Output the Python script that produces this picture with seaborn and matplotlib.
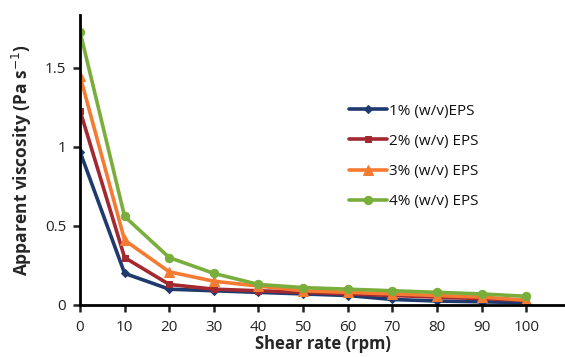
import numpy as np
import pandas as pd
import matplotlib
matplotlib.use("Agg")
import matplotlib.pyplot as plt
import seaborn as sns

# data
shear_rate = [0, 10, 20, 30, 40, 50, 60, 70, 80, 90, 100]
eps1 = [0.97, 0.20, 0.10, 0.09, 0.08, 0.07, 0.06, 0.035, 0.025, 0.02, 0.015]
eps2 = [1.23, 0.30, 0.13, 0.10, 0.09, 0.08, 0.07, 0.06, 0.05, 0.04, 0.03]
eps3 = [1.45, 0.41, 0.21, 0.15, 0.12, 0.09, 0.08, 0.07, 0.06, 0.05, 0.03]
eps4 = [1.73, 0.56, 0.30, 0.20, 0.13, 0.11, 0.10, 0.09, 0.08, 0.07, 0.055]
labels = ["1% (w/v)EPS", "2% (w/v) EPS", "3% (w/v) EPS", "4% (w/v) EPS"]

colors = ["#1f3a6e", "#a3282f", "#f57a32", "#7aae3c"]
markers = ["D", "s", "^", "o"]
msizes = [4, 4, 7, 6]

df = pd.concat([
    pd.DataFrame({"rate": shear_rate, "visc": v, "conc": lab})
    for v, lab in zip([eps1, eps2, eps3, eps4], labels)
])

sns.set_style("white")
plt.rcParams['font.family'] = ['Open Sans', 'DejaVu Sans']

fig = plt.figure(figsize=(5.65, 3.57), dpi=100)
ax = fig.add_axes([0.1416, 0.1457, 0.8584, 0.8123])

for lab, c, m, ms in zip(labels, colors, markers, msizes):
    sns.lineplot(data=df[df["conc"] == lab], x="rate", y="visc", ax=ax,
                 color=c, marker=m, markersize=ms, markeredgecolor=c,
                 linewidth=2.6, label=lab)

ax.set_xlim(0, 108.7)
ax.set_ylim(0, 1.835)
ax.set_xticks(shear_rate)
ax.set_yticks([0, 0.5, 1, 1.5])
ax.set_yticklabels(["0", "0.5", "1", "1.5"])
ax.tick_params(axis="both", labelsize=11, colors="#222222", length=5, width=1.8,
               direction="out", bottom=True, left=True)
ax.tick_params(axis="x", pad=6)
ax.tick_params(axis="y", pad=5)
for s in ["top", "right"]:
    ax.spines[s].set_visible(False)
for s in ["left", "bottom"]:
    ax.spines[s].set_color("black")
    ax.spines[s].set_linewidth(2)

ax.set_xlabel("Shear rate (rpm)", fontsize=12, fontweight="bold", labelpad=0)
ax.set_ylabel("Apparent viscosity (Pa s$^{-1}$)", fontsize=12.5, fontweight="bold", labelpad=8)

leg = ax.legend(loc="upper left", bbox_to_anchor=(0.526, 0.742), frameon=False,
                fontsize=11, handlelength=2.5, handletextpad=0.1, labelspacing=1.0)
for t in leg.get_texts():
    t.set_color("#111111")

fig.savefig("out.png", dpi=100)
